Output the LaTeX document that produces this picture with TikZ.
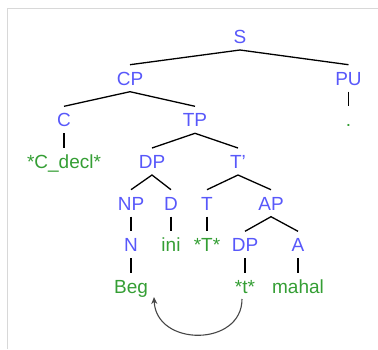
\documentclass[tikz,border=0pt]{standalone}
\usepackage{fontspec}
\setmainfont{Liberation Sans}
\usetikzlibrary{arrows.meta}
\definecolor{catblue}{RGB}{88,88,250}
\definecolor{leafgreen}{RGB}{52,158,52}
\definecolor{framegray}{RGB}{216,216,216}
\definecolor{movegray}{RGB}{70,70,70}
\begin{document}
\begin{tikzpicture}[x=1pt,y=-1pt,
  every node/.style={font=\fontsize{19}{23}\selectfont,
    text height=13.6pt,text depth=0pt,inner xsep=2pt,inner ysep=6.5pt},
  cat/.style={text=catblue},
  leaf/.style={text=leafgreen},
  branch/.style={draw=black,line width=1.3pt},
  movement/.style={draw=movegray,line width=1.1pt,-{Stealth[length=7pt,width=6pt]}}]
\useasboundingbox (0,0) rectangle (378,349);
% frame
\draw[framegray,line width=1.5pt] (7.5,349) -- (7.5,8.5) -- (378,8.5);
% rows
\node[cat] (S) at (240,36.5) {S};
\node[cat] (CP) at (130,78.2) {CP};
\node[cat] (PU) at (348.5,78.2) {PU};
\node[cat] (C) at (64,119.8) {C};
\node[cat] (TP) at (195,119.8) {TP};
\node[leaf] (dot) at (348.5,119.8) {.};
\node[leaf] (Cdecl) at (64,161.5) {*C\_decl*};
\node[cat] (DPa) at (152,161.5) {DP};
\node[cat] (Tbar) at (238,161.5) {T'};
\node[cat] (NP) at (131,203.2) {NP};
\node[cat] (D) at (171,203.2) {D};
\node[cat] (T) at (207,203.2) {T};
\node[cat] (AP) at (271,203.2) {AP};
\node[cat] (N) at (131,244.8) {N};
\node[leaf] (ini) at (171,244.8) {ini};
\node[leaf] (Tstar) at (207,244.8) {*T*};
\node[cat] (DPb) at (245,244.8) {DP};
\node[cat] (A) at (298,244.8) {A};
\node[leaf] (Beg) at (131,286.5) {Beg};
\node[leaf] (tstar) at (245,286.5) {*t*};
\node[leaf] (mahal) at (298,286.5) {mahal};
% branches
\draw[branch] (CP.north) -- (S.south) -- (PU.north);
\draw[branch] (PU.south) -- (dot.north);
\draw[branch] (C.north) -- (CP.south) -- (TP.north);
\draw[branch] (C.south) -- (Cdecl.north);
\draw[branch] (DPa.north) -- (TP.south) -- (Tbar.north);
\draw[branch] (NP.north) -- (DPa.south) -- (D.north);
\draw[branch] (T.north) -- (Tbar.south) -- (AP.north);
\draw[branch] (NP.south) -- (N.north);
\draw[branch] (D.south) -- (ini.north);
\draw[branch] (T.south) -- (Tstar.north);
\draw[branch] (DPb.north) -- (AP.south) -- (A.north);
\draw[branch] (N.south) -- (Beg.north);
\draw[branch] (DPb.south) -- (tstar.north);
\draw[branch] (A.south) -- (mahal.north);
% movement arrow from the trace back to the moved constituent
\draw[movement] ([xshift=-3pt,yshift=1pt]tstar.south)
  .. controls (242,347) and (156,347) .. ([xshift=23pt,yshift=3pt]Beg.south);
\end{tikzpicture}
\end{document}
